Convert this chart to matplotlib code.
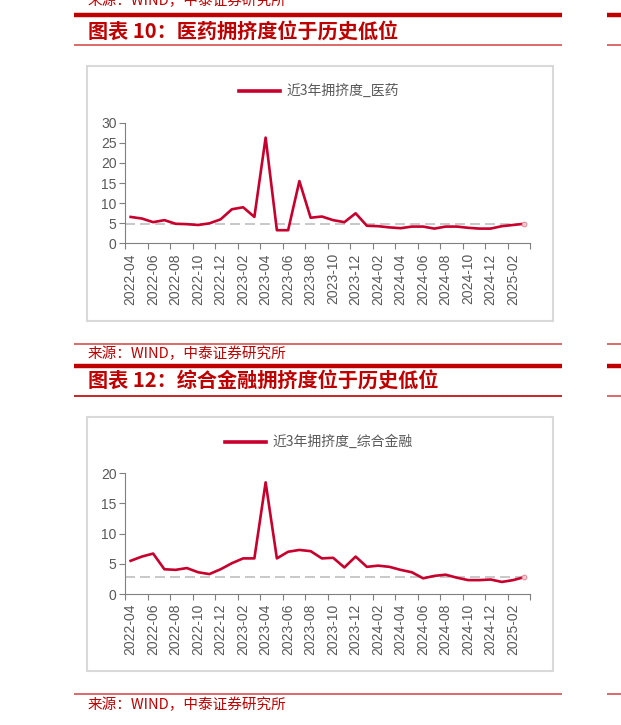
import matplotlib
matplotlib.use('Agg')
import matplotlib.pyplot as plt
from matplotlib.lines import Line2D
from matplotlib.patches import Rectangle
import numpy as np

plt.rcParams['font.family'] = ['Liberation Sans', 'DejaVu Sans']
CJK = ['Noto Sans CJK SC', 'DejaVu Sans']

# 数据
months = ['2022-04', '2022-05', '2022-06', '2022-07', '2022-08', '2022-09', '2022-10', '2022-11',
          '2022-12', '2023-01', '2023-02', '2023-03', '2023-04', '2023-05', '2023-06', '2023-07',
          '2023-08', '2023-09', '2023-10', '2023-11', '2023-12', '2024-01', '2024-02', '2024-03',
          '2024-04', '2024-05', '2024-06', '2024-07', '2024-08', '2024-09', '2024-10', '2024-11',
          '2024-12', '2025-01', '2025-02', '2025-03']
pharma = [6.6, 6.2, 5.3, 5.8, 4.9, 4.8, 4.6, 5.0, 6.0, 8.5, 9.0, 6.6,
          26.3, 3.3, 3.3, 15.5, 6.4, 6.7, 5.8, 5.3, 7.5, 4.4, 4.3, 4.0,
          3.8, 4.2, 4.2, 3.7, 4.2, 4.2, 3.9, 3.7, 3.7, 4.3, 4.6, 4.9]
pharma_ref = 4.9
finance = [5.5, 6.2, 6.7, 4.1, 4.0, 4.3, 3.6, 3.3, 4.1, 5.1, 5.9, 5.9,
           18.5, 5.9, 7.0, 7.3, 7.1, 5.9, 6.0, 4.4, 6.2, 4.5, 4.7, 4.5,
           4.0, 3.6, 2.6, 3.0, 3.2, 2.7, 2.3, 2.3, 2.4, 2.0, 2.3, 2.8]
finance_ref = 2.8

W, H = 621, 725
fig = plt.figure(figsize=(W / 100, H / 100), dpi=100)
fig.patch.set_facecolor('white')

RED = '#c00000'
LINE_RED = '#c8002d'
GREY_TXT = '#595959'


def fx(x):
    return x / W


def fy(y):
    return 1 - y / H


def hline(y, x0, x1, lw, color):
    fig.add_artist(Line2D([fx(x0), fx(x1)], [fy(y), fy(y)], lw=lw, color=color,
                          solid_capstyle='butt'))


def source(y):
    fig.text(fx(88), fy(y), '来源：WIND，中泰证券研究所', family=CJK, fontsize=10.5,
             color=RED, va='center', ha='left')


def chart(box_top, box_bot, ax_top, ax_bot, ymax, values, ref, legend_y, leg_x0, label):
    fig.add_artist(Rectangle((fx(87), fy(box_bot)), fx(553) - fx(87), fy(box_top) - fy(box_bot),
                             fill=False, ec='#d9d9d9', lw=1.5))
    ax = fig.add_axes([fx(125), fy(ax_bot), fx(530) - fx(125), fy(ax_top) - fy(ax_bot)])
    x = np.arange(len(months))
    ax.plot(x, values, color=LINE_RED, lw=1.9, solid_joinstyle='round', zorder=3)
    ax.axhline(ref, color='#bfbfbf', lw=1.2, ls=(0, (6, 3)), zorder=2)
    ax.set_xlim(-0.5, len(months) - 0.5)
    ax.set_ylim(0, ymax)
    ax.set_yticks(np.arange(0, ymax + 1, 5))
    ax.set_xticks(np.arange(-0.5, len(months), 2))
    ax.set_xticklabels([])
    ax.set_xticks(x[::2], minor=True)
    ax.set_xticklabels([months[i] for i in x[::2]], minor=True, rotation=90)
    ax.tick_params(axis='x', which='minor', length=0, pad=7, labelsize=10, labelcolor=GREY_TXT)
    ax.tick_params(axis='x', which='major', length=4, color='#808080', width=0.8)
    ax.tick_params(axis='y', length=4, color='#808080', width=0.8, labelsize=10,
                   labelcolor=GREY_TXT, pad=2)
    for s in ['top', 'right']:
        ax.spines[s].set_visible(False)
    for s in ['left', 'bottom']:
        ax.spines[s].set_color('#808080')
        ax.spines[s].set_linewidth(0.8)
    ax.patch.set_alpha(0)
    ax.plot(x[-1], values[-1], 'o', ms=3.5, mfc='#f0c8d0', mec='#e08090', mew=0.6, zorder=4)
    # 图例
    fig.add_artist(Line2D([fx(leg_x0), fx(leg_x0 + 41)], [fy(legend_y), fy(legend_y)],
                          lw=2.6, color=LINE_RED))
    fig.text(fx(leg_x0 + 47), fy(legend_y), label, family=CJK, fontsize=10,
             color=GREY_TXT, va='center', ha='left')
    return ax


# 上半部分
source(1)
hline(15, 74, 562, 3.2, RED)
fig.text(fx(88), fy(32), '图表 10：医药拥挤度位于历史低位', family=CJK, fontsize=14.5,
         fontweight='bold', color=RED, va='center', ha='left')
hline(44.5, 74, 562, 1.2, '#d65050')
chart(66, 321, 122.7, 243.5, 30, pharma, pharma_ref, 91, 239, '近3年拥挤度_医药')

# 下半部分
hline(343.5, 74, 562, 1.2, '#d65050')
source(354)
hline(366, 74, 562, 3.2, RED)
fig.text(fx(88), fy(381), '图表 12：综合金融拥挤度位于历史低位', family=CJK, fontsize=14.5,
         fontweight='bold', color=RED, va='center', ha='left')
hline(395.5, 74, 562, 1.2, RED)
chart(417, 671, 473.3, 594, 20, finance, finance_ref, 442, 225, '近3年拥挤度_综合金融')

hline(694, 74, 562, 1.2, '#d65050')
source(705)

# 右侧相邻栏的边缘
for yy, lw in [(15, 3.2), (44.5, 1.2), (343.5, 1.2), (366, 3.2), (395.5, 1.2), (694, 1.2)]:
    hline(yy, 607, 621, lw, RED if lw > 2 else '#d65050')

fig.savefig('out.png', dpi=100, facecolor='white')
